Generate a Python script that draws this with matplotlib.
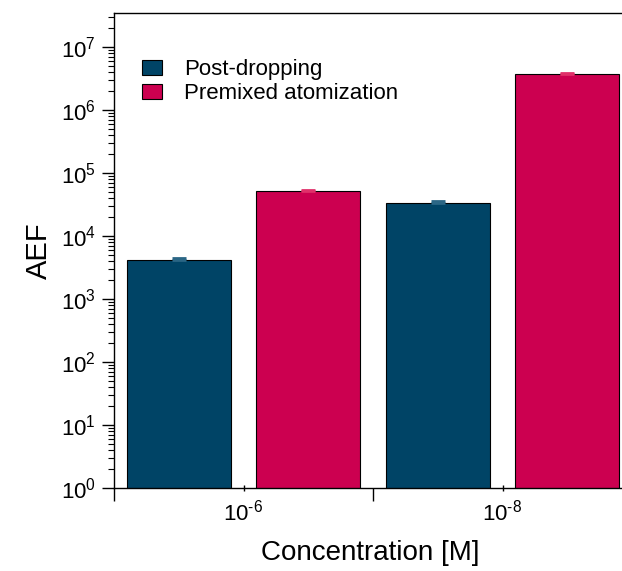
import matplotlib.pyplot as plt
import numpy as np

plt.rcParams['font.family'] = ['Liberation Sans', 'DejaVu Sans']
plt.rcParams['mathtext.fontset'] = 'custom'
plt.rcParams['mathtext.rm'] = 'Liberation Sans'
plt.rcParams['mathtext.it'] = 'Liberation Sans'

# ============ data ============
concentrations = [r'$10^{\text{-}6}$', r'$10^{\text{-}8}$']
post_dropping = [4200, 34000]
post_dropping_err = [300, 2500]
premixed = [52000, 3.8e6]
premixed_err = [2500, 1.5e5]

NAVY = '#004466'
CRIMSON = '#cc0050'

fig = plt.figure(figsize=(6.22, 5.71), dpi=100)
ax = fig.add_axes([114 / 622, 1 - 488 / 571, (632 - 114) / 622, (488 - 13) / 571])

x = np.arange(len(concentrations))
width = 0.40
offset = 0.25

ax.bar(x - offset, post_dropping, width=width, color=NAVY, edgecolor='black',
       linewidth=0.8, label='Post-dropping')
ax.bar(x + offset, premixed, width=width, color=CRIMSON, edgecolor='black',
       linewidth=0.8, label='Premixed atomization')

# upper error caps only
ax.errorbar(x - offset, post_dropping, yerr=[np.zeros(2), post_dropping_err],
            fmt='none', ecolor='#2a6685', elinewidth=1, capsize=5, capthick=2)
ax.errorbar(x + offset, premixed, yerr=[np.zeros(2), premixed_err],
            fmt='none', ecolor='#e0306a', elinewidth=1, capsize=5, capthick=2)

ax.set_yscale('log')
ax.set_ylim(1, 3.5e7)
ax.set_xlim(-0.5, 1.5)

# major ticks between groups, labels at group centres
ax.set_xticks([-0.5, 0.5, 1.5])
ax.set_xticklabels([])
ax.set_xticks(x, minor=True)
ax.set_xticklabels(concentrations, minor=True, fontsize=16)
ax.tick_params(axis='x', which='major', length=9, width=1, direction='out')
ax.tick_params(axis='x', which='minor', length=4, width=1, direction='inout', pad=6)

ax.set_yticks([10.0 ** k for k in range(8)])
ax.set_yticklabels(['$10^{%d}$' % k for k in range(8)], fontsize=16)
ax.tick_params(axis='y', which='major', length=9, width=1, direction='out', pad=4)
ax.tick_params(axis='y', which='minor', length=4, width=0.8, direction='out')

ax.spines['right'].set_visible(False)
for s in ['left', 'top', 'bottom']:
    ax.spines[s].set_linewidth(1)

ax.set_ylabel('AEF', fontsize=21, labelpad=6)
ax.set_xlabel('Concentration [M]', fontsize=20)
ax.xaxis.set_label_coords((370 - 114) / (632 - 114), -0.11)

ax.legend(loc='upper left', bbox_to_anchor=(0.015, 0.945), fontsize=16, frameon=False,
          handlelength=0.9, handleheight=0.65, handletextpad=1.0, labelspacing=0.15)

plt.savefig('out.png', dpi=100)
